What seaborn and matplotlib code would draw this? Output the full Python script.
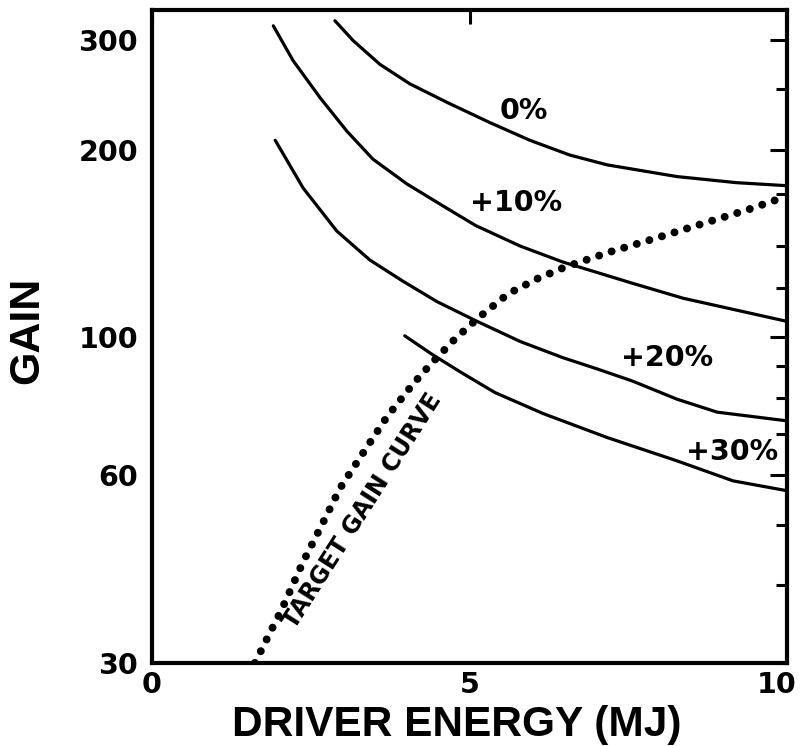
import numpy as np
import pandas as pd
import matplotlib
matplotlib.use('Agg')
import matplotlib.pyplot as plt
import matplotlib.ticker as mticker
import matplotlib.transforms as mtransforms
import seaborn as sns

# =========================
# DATA
# =========================
energy_0 = [2.88, 3.17, 3.59, 4.06, 4.65, 5.32, 5.95, 6.58, 7.17, 8.27, 9.2, 10.0]
gain_0 = [322, 299, 274, 255, 238, 221, 207, 196, 189, 181, 177, 175]

energy_10 = [1.91, 2.22, 2.65, 3.07, 3.48, 4.02, 4.6, 5.1, 5.8, 6.47, 7.57, 8.36, 10.0]
gain_10 = [316, 278, 242, 214, 193, 176, 162, 151, 140, 132, 122, 115.5, 106]

energy_20 = [1.94, 2.38, 2.91, 3.43, 3.95, 4.49, 5.12, 5.8, 6.47, 7.0, 7.57, 8.27, 8.9, 10.0]
gain_20 = [207, 173.5, 148, 133, 123, 114, 106, 98.4, 92.7, 89, 85, 79.5, 75.8, 73.4]

energy_30 = [3.98, 4.4, 4.85, 5.4, 6.16, 7.17, 8.27, 9.15, 10.0]
gain_30 = [100.5, 94, 88, 81.5, 75.4, 69, 63.3, 58.8, 56.7]

target_energy = [1.62, 2.05, 2.38, 2.68, 2.96, 3.32, 3.70, 4.11, 4.41, 4.77,
                 5.12, 5.61, 6.06, 6.50, 7.21, 7.92, 8.66, 9.37, 9.9]
target_gain = [30, 36.7, 43.6, 50.1, 57.2, 65.1, 74.5, 84.1, 91, 99.3,
               107, 117.4, 124, 129.5, 137, 144, 152, 160, 167]

curve_labels = ['0%', '+10%', '+20%', '+30%']
label_pos = [(5.85, 231), (5.73, 164), (8.11, 92.7), (9.13, 65.3)]

y_major = [30, 60, 100, 200, 300]
y_minor = [40, 50, 70, 80, 90, 120, 140, 170, 250]
x_ticks = [0, 5, 10]

# =========================
# PLOT
# =========================
sns.set_theme(style='white')
plt.rcParams['font.family'] = ['DejaVu Sans']

fig = plt.figure(figsize=(8.01, 7.46), dpi=100)
ax = fig.add_axes([0.1898, 0.1113, 0.7927, 0.8753])

curves = [(energy_0, gain_0), (energy_10, gain_10),
          (energy_20, gain_20), (energy_30, gain_30)]
for e, g in curves:
    sns.lineplot(x=e, y=g, ax=ax, color='black', linewidth=2.3,
                 sort=False, estimator=None)

sns.lineplot(x=target_energy, y=target_gain, ax=ax, color='black',
             linewidth=5.7, sort=False, estimator=None,
             linestyle=(0, (0.01, 1.65)), dash_capstyle='round')

ax.set_yscale('log')
ax.set_xlim(0, 10)
ax.set_ylim(30, 335)

ax.yaxis.set_major_locator(mticker.FixedLocator(y_major))
ax.yaxis.set_major_formatter(mticker.FixedFormatter([str(v) for v in y_major]))
ax.yaxis.set_minor_locator(mticker.FixedLocator(y_minor))
ax.yaxis.set_minor_formatter(mticker.NullFormatter())
ax.set_xticks(x_ticks)
ax.set_xticklabels([str(v) for v in x_ticks])

ax.tick_params(axis='both', which='both', direction='in', color='black',
               width=2.2, labelsize=20.5, labelcolor='black')
ax.tick_params(axis='y', which='major', length=12, pad=10, right=True)
ax.tick_params(axis='y', which='minor', length=8, right=True)
ax.tick_params(axis='x', which='major', length=10, pad=6, top=True)
for lab in ax.get_xticklabels() + ax.get_yticklabels():
    lab.set_fontweight('bold')
# last x label sits a bit left of its tick in the original
last = ax.get_xticklabels()[-1]
last.set_transform(last.get_transform() +
                   mtransforms.ScaledTranslation(-10 / 100, 0, fig.dpi_scale_trans))

for sp in ax.spines.values():
    sp.set_linewidth(3.0)
    sp.set_color('black')

for txt, (px, py) in zip(curve_labels, label_pos):
    ax.text(px, py, txt, fontsize=20.5, fontweight='bold',
            ha='center', va='center', color='black')

ax.text(3.31, 52.6, 'TARGET GAIN CURVE', fontsize=17, fontweight='bold',
        rotation=57.5, ha='center', va='center', color='black',
        rotation_mode='anchor')

ax.set_xlabel('DRIVER ENERGY (MJ)', fontsize=30.5, fontweight='bold',
              family=['Liberation Sans', 'DejaVu Sans'], color='black')
ax.set_ylabel('GAIN', fontsize=31, fontweight='bold',
              family=['Liberation Sans', 'DejaVu Sans'], color='black')
ax.xaxis.label.set_va('baseline')
ax.xaxis.set_label_coords(0.48, -0.1118)
ax.yaxis.set_label_coords(-0.165, 0.51)

fig.savefig('out.png', dpi=100, facecolor='white')
